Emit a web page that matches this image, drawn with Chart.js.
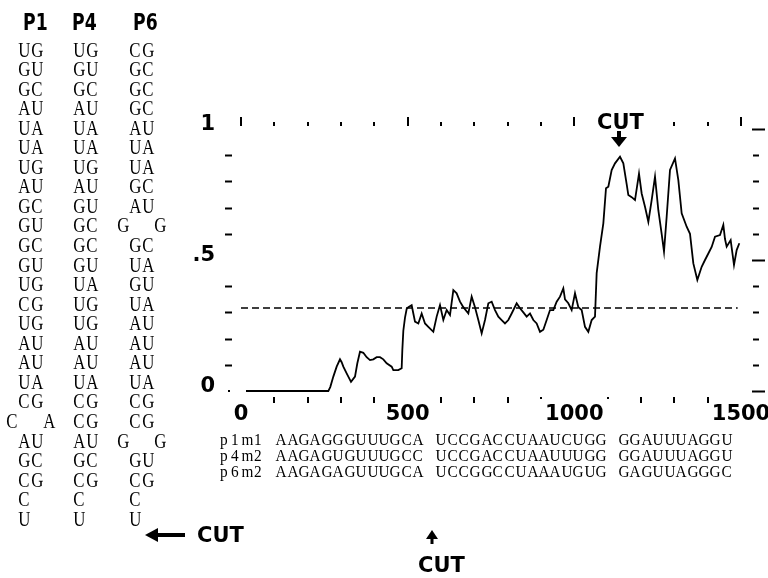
<!DOCTYPE html>
<html>
<head>
<meta charset="utf-8">
<script src="https://cdn.jsdelivr.net/npm/chart.js@4.4.1/dist/chart.umd.min.js"></script>
<style>
  html, body { margin: 0; padding: 0; background: #fff; }
  #wrap { position: relative; width: 768px; height: 578px; overflow: hidden; }
  #wrap canvas { position: absolute; left: 0; top: 0; }
  .t { position: absolute; white-space: pre; color: #000; }
  .base { font: 21px "Liberation Serif", serif; line-height: 20px; width: 12.5px; text-align: center; transform: scaleX(0.8); }
  .seq { font: 17px "Liberation Serif", serif; line-height: 16px; width: 11.43px; text-align: center; transform: scaleX(0.9); }
  .big { font: bold 21px "DejaVu Sans", sans-serif; line-height: 24px; }
  .head { font: bold 23px "DejaVu Sans", sans-serif; line-height: 24px; transform: scaleX(0.75); transform-origin: 0 50%; }
</style>
</head>
<body>
<div id="wrap"><canvas id="grafico" width="768" height="578"></canvas></div>
<script>
// curva (posição, valor)
const curveX = [15,262,268,277,287,297,302,307,317,330,
  342,349,357,367,377,387,397,407,417,427,
  437,452,457,472,482,484,487,492,497,502,
  512,517,522,532,542,552,562,577,587,597,
  607,617,627,637,647,657,667,682,692,702,
  712,722,732,742,752,762,772,782,792,802,
  812,827,837,847,857,867,877,887,897,907,
  917,927,937,947,957,967,972,982,992,1002,
  1012,1022,1032,1042,1052,1062,1067,1077,1087,1095,
  1102,1112,1122,1137,1147,1157,1162,1172,1182,1194,
  1202,1212,1222,1232,1242,1252,1262,1269,1277,1287,
  1302,1312,1322,1337,1347,1357,1369,1382,1392,1402,
  1412,1422,1437,1447,1452,1457,1469,1479,1487,1495];
const curveY = [0,0,0.016,0.055,0.093,0.121,0.11,0.093,0.067,0.035,
  0.055,0.106,0.15,0.146,0.129,0.118,0.121,0.129,0.129,0.121,
  0.106,0.093,0.08,0.08,0.087,0.157,0.23,0.28,0.313,0.32,
  0.328,0.296,0.265,0.258,0.296,0.258,0.245,0.226,0.284,0.328,
  0.271,0.309,0.29,0.385,0.373,0.341,0.32,0.296,0.36,0.32,
  0.271,0.22,0.271,0.335,0.341,0.309,0.284,0.271,0.258,0.271,
  0.296,0.335,0.316,0.30,0.284,0.296,0.271,0.258,0.226,0.234,
  0.271,0.309,0.309,0.341,0.36,0.392,0.35,0.335,0.309,0.373,
  0.32,0.309,0.245,0.226,0.271,0.284,0.45,0.551,0.64,0.774,
  0.78,0.843,0.869,0.894,0.869,0.79,0.748,0.74,0.729,0.83,
  0.754,0.703,0.646,0.729,0.818,0.69,0.60,0.532,0.665,0.844,
  0.888,0.805,0.678,0.627,0.60,0.487,0.424,0.474,0.50,0.525,
  0.55,0.589,0.595,0.634,0.58,0.551,0.576,0.481,0.538,0.564];

// linha tracejada de referência
const refLevel = 0.317;
const refRange = [0, 1490];

// eixos
const xTicks = [0,100,200,300,400,500,600,700,800,900,1000,1100,1200,1300,1400,1500];
const xLabels = [0, 500, 1000, 1500];
const yTicks = [0,0.1,0.2,0.3,0.4,0.5,0.6,0.7,0.8,0.9,1];
const yLabels = [0, 0.5, 1];
const yLabelText = ['0', '.5', '1'];
const topGap = [1100, 1200];     // escondidos pelo "CUT"
const dotTicks = [900, 1000, 1100];

// hastes P1, P4, P6 (4 colunas: bolha, base, par, bolha)
const stemNames = ['P1', 'P4', 'P6'];
const stemP1 = [' UG ',' GU ',' GC ',' AU ',' UA ',' UA ',' UG ',' AU ',' GC ',' GU ',' GC ',' GU ',' UG ',
  ' CG ',' UG ',' AU ',' AU ',' UA ',' CG ','C  A',' AU ',' GC ',' CG ',' C  ',' U  '];
const stemP4 = [' UG ',' GU ',' GC ',' AU ',' UA ',' UA ',' UG ',' AU ',' GU ',' GC ',' GC ',' GU ',' UA ',
  ' UG ',' UG ',' AU ',' AU ',' UA ',' CG ',' CG ',' AU ',' GC ',' CG ',' C  ',' U  '];
const stemP6 = [' CG ',' GC ',' GC ',' GC ',' AU ',' UA ',' UA ',' GC ',' AU ','G  G',' GC ',' UA ',' GU ',
  ' UA ',' AU ',' AU ',' AU ',' UA ',' CG ',' CG ','G  G',' GU ',' CG ',' C  ',' U  '];

// sequências
const seqNames = ['p1m1', 'p4m2', 'p6m2'];
const seqP1 = ['AAGAGGGUUUGCA', 'UCCGACCUAAUCUGG', 'GGAUUUAGGU'];
const seqP4 = ['AAGAGUGUUUGCC', 'UCCGACCUAAUUUGG', 'GGAUUUAGGU'];
const seqP6 = ['AAGAGAGUUUGCA', 'UCCGGCCUAAAUGUG', 'GAGUUAGGGC'];

const wrap = document.getElementById('wrap');
function put(text, cls, left, top) {
  const d = document.createElement('div');
  d.className = 't ' + cls;
  d.textContent = text;
  d.style.left = left + 'px';
  d.style.top = top + 'px';
  wrap.appendChild(d);
}

// colunas de bases
const colLeft = [17, 72, 128];
const headLeft = [23, 72, 133];
[stemP1, stemP4, stemP6].forEach((rows, c) => {
  put(stemNames[c], 'head', headLeft[c], 10);
  rows.forEach((row, r) => {
    [...row].forEach((ch, k) => {
      if (ch !== ' ') put(ch, 'base', colLeft[c] + (k - 1) * 12.5, 49.5 + r * 19.55 - 10);
    });
  });
});

[seqP1, seqP4, seqP6].forEach((groups, i) => {
  const line = seqNames[i] + ' ' + groups.join(' ');
  [...line].forEach((ch, k) => {
    if (ch !== ' ') put(ch, 'seq', 218 + k * 11.43, 440 + i * 16 - 8);
  });
});

put('CUT', 'big', 597, 110);
put('CUT', 'big', 197, 523);
put('CUT', 'big', 418, 553);

const marks = {
  id: 'marks',
  afterDraw(chart) {
    const { ctx, chartArea: a, scales: { x, y } } = chart;
    ctx.save();
    ctx.strokeStyle = '#000';
    ctx.fillStyle = '#000';
    ctx.lineWidth = 2;
    const seg = (x1, y1, x2, y2) => { ctx.beginPath(); ctx.moveTo(x1, y1); ctx.lineTo(x2, y2); ctx.stroke(); };
    xTicks.forEach(v => {
      const px = Math.round(x.getPixelForValue(v));
      const major = v % 500 === 0;
      if (!topGap.includes(v)) seg(px, a.top - (major ? 9 : 4), px, a.top);
      if (!major) seg(px, a.bottom + 1, px, a.bottom + (dotTicks.includes(v) ? 3 : 7));
    });
    yTicks.forEach(v => {
      const py = Math.round(y.getPixelForValue(v)) + 0.5;
      const major = yLabels.includes(v);
      if (!major) seg(a.left - 8, py, a.left - 1, py);
      seg(a.right + (major ? 0 : 1), py, a.right + (major ? 13 : 7), py);
    });
    // ponto no zero à esquerda
    ctx.fillRect(a.left - 5, Math.round(y.getPixelForValue(0)) - 1, 2, 2);

    const tri = (p) => { ctx.beginPath(); ctx.moveTo(p[0], p[1]); ctx.lineTo(p[2], p[3]); ctx.lineTo(p[4], p[5]); ctx.closePath(); ctx.fill(); };
    // seta para baixo (CUT do topo)
    ctx.fillRect(617, 131, 4, 6);
    tri([611, 137, 627, 137, 619, 147]);
    // seta para a esquerda
    ctx.fillRect(157, 533, 28, 4);
    tri([145, 535, 158, 528, 158, 542]);
    // seta para cima
    tri([432, 530, 426, 539, 438, 539]);
    ctx.fillRect(430.5, 538, 3, 6);
    ctx.restore();
  }
};

const ctx = document.getElementById('grafico').getContext('2d');
const tickFont = { family: 'DejaVu Sans', weight: 'bold', size: 21 };

new Chart(ctx, {
  type: 'line',
  data: {
    datasets: [{
      data: curveX.map((v, i) => ({ x: v, y: curveY[i] })),
      borderColor: '#000',
      borderWidth: 1.8,
      pointRadius: 0,
      tension: 0,
      fill: false
    }, {
      data: refRange.map(v => ({ x: v, y: refLevel })),
      borderColor: '#000',
      borderWidth: 1.5,
      borderDash: [7, 4],
      pointRadius: 0,
      fill: false
    }]
  },
  options: {
    responsive: false,
    animation: false,
    layout: { padding: { left: 173, right: 16, top: 126, bottom: 152 } },
    plugins: { legend: { display: false }, tooltip: { enabled: false } },
    scales: {
      x: {
        type: 'linear',
        min: -24,
        max: 1533,
        grid: { display: false, drawTicks: false },
        border: { display: false },
        afterBuildTicks: s => { s.ticks = xLabels.map(v => ({ value: v })); },
        afterFit: s => { s.height = 30; s.paddingLeft = 0; s.paddingRight = 0; },
        ticks: { color: '#000', font: tickFont, padding: 6, maxRotation: 0, autoSkip: false,
          callback: v => String(v) }
      },
      y: {
        type: 'linear',
        min: -0.019,
        max: 1.0115,
        grid: { display: false, drawTicks: false },
        border: { display: false },
        afterBuildTicks: s => { s.ticks = yLabels.map(v => ({ value: v })); },
        afterFit: s => { s.width = 60; s.paddingTop = 0; s.paddingBottom = 0; },
        ticks: {
          color: '#000', font: tickFont, padding: 18, labelOffset: -4,
          callback: v => yLabelText[yLabels.indexOf(v)]
        }
      }
    }
  },
  plugins: [marks]
});
</script>
</body>
</html>
